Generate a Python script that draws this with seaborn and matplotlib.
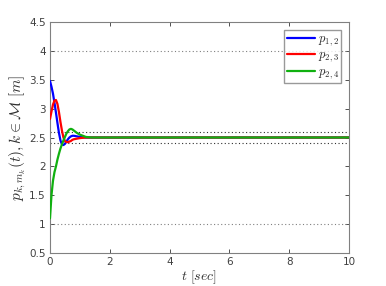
import numpy as np
import pandas as pd
import matplotlib
matplotlib.use("Agg")
import matplotlib.pyplot as plt
import seaborn as sns

# time samples (sec) and values
t = [0.0, 0.05, 0.1, 0.15, 0.2, 0.25, 0.3, 0.35, 0.4, 0.45, 0.5, 0.55, 0.6,
     0.65, 0.7, 0.75, 0.8, 0.9, 1.0, 1.1, 1.2, 1.4, 1.6, 2.0, 4.0, 6.0, 8.0, 10.0]
p12 = [3.48, 3.38, 3.26, 3.10, 2.93, 2.75, 2.58, 2.45, 2.38, 2.37, 2.39, 2.43, 2.47,
       2.50, 2.52, 2.53, 2.53, 2.52, 2.51, 2.505, 2.50, 2.50, 2.50, 2.50, 2.50, 2.50, 2.50, 2.50]
p23 = [2.82, 2.95, 3.07, 3.14, 3.15, 3.08, 2.94, 2.77, 2.62, 2.50, 2.44, 2.42, 2.42,
       2.43, 2.44, 2.46, 2.47, 2.48, 2.49, 2.495, 2.50, 2.50, 2.50, 2.50, 2.50, 2.50, 2.50, 2.50]
p24 = [1.10, 1.50, 1.75, 1.90, 2.00, 2.12, 2.22, 2.31, 2.38, 2.45, 2.51, 2.57, 2.61,
       2.64, 2.65, 2.64, 2.62, 2.58, 2.55, 2.53, 2.51, 2.50, 2.50, 2.50, 2.50, 2.50, 2.50, 2.50]
names = ["$p_{1,2}$", "$p_{2,3}$", "$p_{2,4}$"]
colors = ["#0000ff", "#ff0000", "#10b010"]
ref_levels = [4.0, 2.6, 2.4, 1.0]

df = pd.concat([
    pd.DataFrame({"t": t, "p": vals, "pair": name})
    for name, vals in zip(names, [p12, p23, p24])
])

sns.set_style("white")
plt.rcParams["mathtext.fontset"] = "cm"

fig = plt.figure(figsize=(3.86, 2.86), dpi=100)
ax = fig.add_axes([0.1295, 0.1154, 0.7745, 0.8076])

for lvl in ref_levels:
    dark = lvl in (2.6, 2.4)
    ax.axhline(lvl, color="#303030" if dark else "#808080", lw=0.8,
               ls=(0, (1, 2.2)), zorder=1)

sns.lineplot(data=df, x="t", y="p", hue="pair", palette=dict(zip(names, colors)),
             lw=1.6, ax=ax, zorder=3)

ax.set_xlim(0, 10)
ax.set_ylim(0.5, 4.5)
ax.set_xticks([0, 2, 4, 6, 8, 10])
ax.set_yticks(np.arange(0.5, 4.51, 0.5))
ax.set_yticklabels(["0.5", "1", "1.5", "2", "2.5", "3", "3.5", "4", "4.5"])
ax.tick_params(direction="in", length=3, width=0.7, color="#505050",
               labelsize=7.5, labelcolor="#404040", top=True, right=True,
               bottom=True, left=True, pad=3)
for s in ax.spines.values():
    s.set_color("#808080")
    s.set_linewidth(0.8)

ax.set_xlabel("$t\\ [sec]$", fontsize=10, color="#303030", labelpad=1)
ax.set_ylabel("$p_{k,m_k}(t), k\\in\\mathcal{M}\\ [m]$", fontsize=11,
              color="#303030", labelpad=1)

leg = ax.legend(loc="upper right", fontsize=9, frameon=True, fancybox=False,
                handlelength=2.3, borderpad=0.2, labelspacing=0.05,
                handletextpad=0.2, borderaxespad=0.6)
leg.get_frame().set_edgecolor("#808080")
leg.get_frame().set_linewidth(1.0)
for line in leg.get_lines():
    line.set_linewidth(1.6)

fig.savefig("out.png", dpi=100)
